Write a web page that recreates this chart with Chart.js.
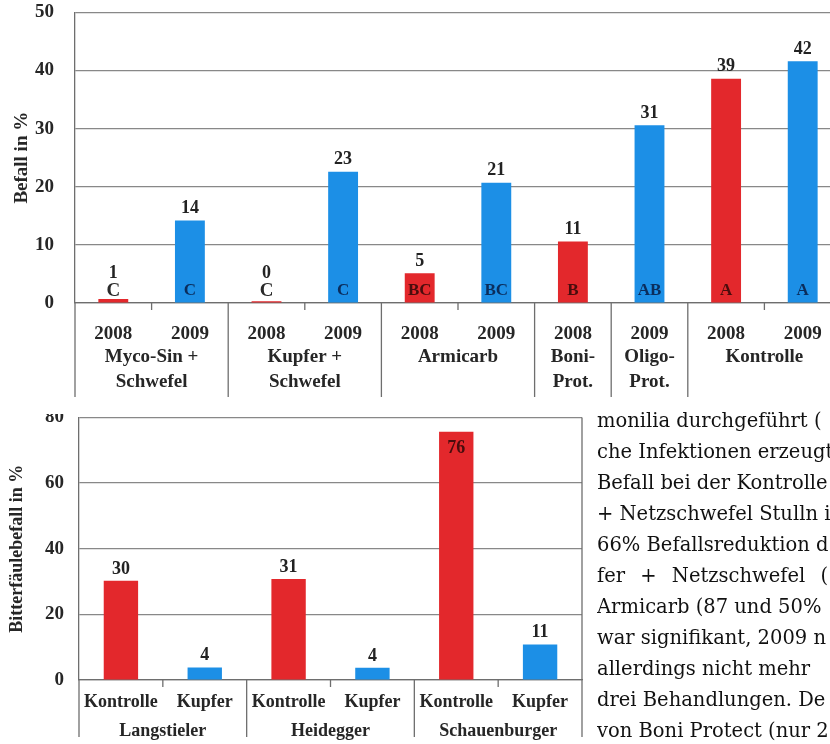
<!DOCTYPE html>
<html>
<head>
<meta charset="utf-8">
<script src="https://cdn.jsdelivr.net/npm/chart.js@4.4.0/dist/chart.umd.min.js"></script>
<style>
  html, body { margin: 0; padding: 0; background: #fff; }
  body { width: 830px; height: 744px; position: relative; overflow: hidden; }
  #topBox { position: absolute; left: 0; top: 0; width: 860px; height: 400px; overflow: hidden; }
  #topBox canvas { position: absolute; left: 0; top: -20px; }
  #bottomBox { position: absolute; left: 0; top: 414px; width: 600px; height: 330px; overflow: hidden; }
  #bottomBox canvas { position: absolute; left: 0; top: -23px; }
  #text {
    position: absolute; left: 597px; top: 405px; width: 233px; overflow: hidden;
    font-family: 'DejaVu Serif', serif; font-size: 19.5px; line-height: 31px; color: #111;
    white-space: nowrap;
  }
</style>
</head>
<body>
<div id="topBox"><canvas id="befallChart" width="860" height="420"></canvas></div>
<div id="bottomBox"><canvas id="bitterChart" width="600" height="360"></canvas></div>
<div id="text">
  <div>monilia durchgeführt (</div>
  <div>che Infektionen erzeugt</div>
  <div>Befall bei der Kontrolle</div>
  <div>+ Netzschwefel Stulln i</div>
  <div>66% Befallsreduktion d</div>
  <div style="word-spacing: 9px">fer + Netzschwefel (</div>
  <div>Armicarb (87 und 50%</div>
  <div>war signifikant, 2009 n</div>
  <div>allerdings nicht mehr</div>
  <div>drei Behandlungen. De</div>
  <div>von Boni Protect (nur 20</div>
</div>
<script>
// --- data: top chart (Befall in %)
const years = ['2008', '2009', '2008', '2009', '2008', '2009', '2008', '2009', '2008', '2009'];
const befall = [0.7, 14.2, 0.3, 22.6, 5.1, 20.7, 10.6, 30.6, 38.6, 41.6];
const letters = ['C', 'C', 'C', 'C', 'BC', 'BC', 'B', 'AB', 'A', 'A'];
const topGroupNames = [['Myco-Sin +', 'Schwefel'], ['Kupfer +', 'Schwefel'], ['Armicarb'], ['Boni-', 'Prot.'], ['Oligo-', 'Prot.'], ['Kontrolle']];
const topGroupSpans = [[0, 1], [2, 3], [4, 5], [6, 6], [7, 7], [8, 9]];

// --- data: bottom chart (Bitterfäulebefall in %)
const treatments = ['Kontrolle', 'Kupfer', 'Kontrolle', 'Kupfer', 'Kontrolle', 'Kupfer'];
const bitter = [30.2, 3.8, 30.8, 3.7, 75.6, 10.8];
const varieties = [['Langstieler'], ['Heidegger'], ['Schauenburger']];
const varietySpans = [[0, 1], [2, 3], [4, 5]];

const RED = '#e3282c';
const BLUE = '#1c8fe6';
const FONT = "'Liberation Serif', 'Times New Roman', serif";

Chart.defaults.font.family = FONT;
Chart.defaults.font.weight = 'bold';
Chart.defaults.color = '#262626';

// separators + group names below the category axis
function groupAxisPlugin(names, spans, opts) {
  return {
    id: 'groupAxis',
    afterDraw(chart) {
      const ctx = chart.ctx;
      const x = chart.scales.x;
      const n = x.ticks.length;
      const w = (x.right - x.left) / n;
      const base = chart.chartArea.bottom;
      ctx.save();
      ctx.strokeStyle = '#6e6e6e';
      ctx.lineWidth = 1.3;
      // left axis extension
      ctx.beginPath();
      ctx.moveTo(x.left, base);
      ctx.lineTo(x.left, opts.sepBottom);
      ctx.stroke();
      spans.forEach((s, gi) => {
        const x0 = x.left + s[0] * w;
        const x1 = x.left + (s[1] + 1) * w;
        // right separator of each group
        ctx.beginPath();
        ctx.moveTo(x1, base);
        ctx.lineTo(x1, opts.sepBottom);
        ctx.stroke();
        // small ticks inside the group
        for (let i = s[0] + 1; i <= s[1]; i++) {
          ctx.beginPath();
          ctx.moveTo(x.left + i * w, base);
          ctx.lineTo(x.left + i * w, base + 7);
          ctx.stroke();
        }
        ctx.fillStyle = '#262626';
        ctx.font = 'bold ' + opts.size + 'px ' + FONT;
        ctx.textAlign = 'center';
        ctx.textBaseline = 'middle';
        names[gi].forEach((line, li) => {
          ctx.fillText(line, (x0 + x1) / 2, opts.lineY[li]);
        });
      });
      if (opts.rightBorder) {
        ctx.beginPath();
        ctx.moveTo(chart.chartArea.right, chart.chartArea.top);
        ctx.lineTo(chart.chartArea.right, base);
        ctx.stroke();
      }
      ctx.restore();
    }
  };
}

// value labels (and significance letters on the top chart)
const topLabels = {
  id: 'topLabels',
  afterDatasetsDraw(chart) {
    const ctx = chart.ctx;
    const meta = chart.getDatasetMeta(0);
    const letterY = chart.chartArea.bottom - 12;
    ctx.save();
    ctx.textAlign = 'center';
    ctx.textBaseline = 'middle';
    meta.data.forEach((bar, i) => {
      ctx.font = 'bold 18px ' + FONT;
      ctx.fillStyle = '#222';
      const y = Math.min(bar.y - 12, letterY - 18);
      ctx.fillText(String(Math.round(befall[i])), bar.x, y);
      const inside = bar.y < letterY - 8;
      ctx.fillStyle = inside ? (years[i] === '2008' ? '#4a0d0d' : '#0b2d5c') : '#2a2a2a';
      ctx.font = 'bold ' + (inside ? 17 : 19) + 'px ' + FONT;
      ctx.fillText(letters[i], bar.x, letterY);
    });
    ctx.restore();
  }
};

const bottomLabels = {
  id: 'bottomLabels',
  afterDatasetsDraw(chart) {
    const ctx = chart.ctx;
    const meta = chart.getDatasetMeta(0);
    ctx.save();
    ctx.textAlign = 'center';
    ctx.textBaseline = 'middle';
    ctx.font = 'bold 18px ' + FONT;
    meta.data.forEach((bar, i) => {
      const inside = bar.y - 22 < chart.chartArea.top;
      ctx.fillStyle = inside ? '#4a0d0d' : '#222';
      ctx.fillText(String(Math.round(bitter[i])), bar.x, inside ? bar.y + 17 : bar.y - 12);
    });
    ctx.restore();
  }
};

const gridColor = '#888';

// top canvas is shifted 20px up (page y = canvas y - 20)
new Chart(document.getElementById('befallChart'), {
  type: 'bar',
  data: {
    labels: years,
    datasets: [{
      data: befall,
      backgroundColor: years.map(y => y === '2008' ? RED : BLUE),
      barPercentage: 0.39,
      categoryPercentage: 1
    }]
  },
  options: {
    responsive: false,
    animation: false,
    layout: { padding: { top: 12, right: 19, left: 0, bottom: 0 } },
    plugins: { legend: { display: false }, tooltip: { enabled: false } },
    scales: {
      x: {
        grid: { display: false },
        border: { display: true, color: '#6e6e6e', width: 1.3 },
        ticks: { font: { size: 19 }, padding: 12, maxRotation: 0 },
        afterFit(s) { s.height = 97; }
      },
      y: {
        min: 0, max: 50,
        ticks: { stepSize: 10, font: { size: 19 }, padding: 21 },
        grid: { color: gridColor, lineWidth: 1.2, drawTicks: false },
        border: { display: true, color: '#6e6e6e', width: 1.3 },
        title: { display: true, text: 'Befall in %', font: { size: 19 }, padding: { top: 11, bottom: 0 } },
        afterFit(s) { s.width = 75; }
      }
    }
  },
  plugins: [topLabels, groupAxisPlugin(topGroupNames, topGroupSpans, { sepBottom: 417, lineY: [377, 402], size: 19 })]
});

// bottom canvas: page y = canvas y + 391
new Chart(document.getElementById('bitterChart'), {
  type: 'bar',
  data: {
    labels: treatments,
    datasets: [{
      data: bitter,
      backgroundColor: treatments.map(t => t === 'Kontrolle' ? RED : BLUE),
      barPercentage: 0.41,
      categoryPercentage: 1
    }]
  },
  options: {
    responsive: false,
    animation: false,
    layout: { padding: { top: 25, right: 18, left: 0, bottom: 0 } },
    plugins: { legend: { display: false }, tooltip: { enabled: false } },
    scales: {
      x: {
        grid: { display: false },
        border: { display: true, color: '#6e6e6e', width: 1.3 },
        ticks: { font: { size: 18 }, padding: 4, maxRotation: 0 },
        afterFit(s) { s.height = 71; }
      },
      y: {
        min: 0, max: 80,
        ticks: { stepSize: 20, font: { size: 19 }, padding: 15 },
        grid: { color: gridColor, lineWidth: 1.2, drawTicks: false },
        border: { display: true, color: '#6e6e6e', width: 1.3 },
        title: { display: true, text: 'Bitterfäulebefall in %', font: { size: 18 }, padding: { top: 7, bottom: 0 } },
        afterFit(s) { s.width = 79; }
      }
    }
  },
  plugins: [bottomLabels, groupAxisPlugin(varieties, varietySpans, { sepBottom: 346, lineY: [340], size: 18, rightBorder: true })]
});
</script>
</body>
</html>
